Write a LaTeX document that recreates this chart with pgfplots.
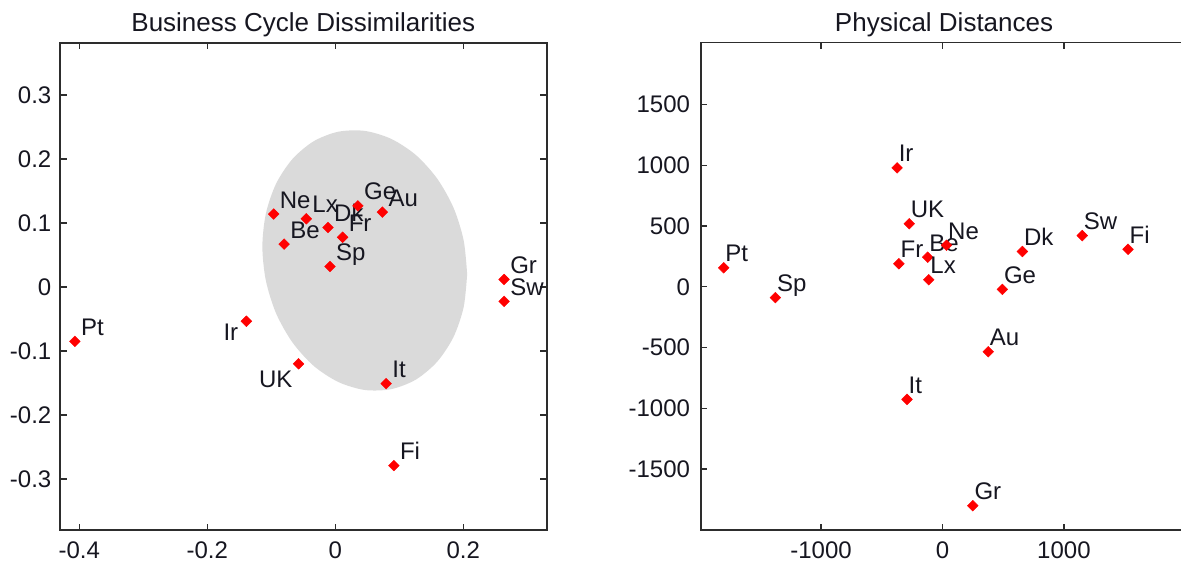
\documentclass[border=0pt]{standalone}
\usepackage{fontspec}
\setmainfont{Liberation Sans}
\usepackage{pgfplots}
\pgfplotsset{compat=1.18}
\usepackage{pgfplotstable}
\definecolor{ellgray}{RGB}{218,218,218}
\definecolor{txt}{RGB}{22,22,32}
\definecolor{axl}{RGB}{45,45,45}
\definecolor{mkred}{RGB}{255,0,0}

% Business cycle dissimilarities (MDS coordinates)
\pgfplotstableread{
x y lab
-0.407 -0.085 Pt
-0.0963 0.114 Ne
-0.0454 0.1065 Lx
-0.080 0.067 Be
-0.0114 0.093 Dk
0.0114 0.0777 Fr
0.0353 0.1268 Ge
0.0735 0.117 Au
-0.0084 0.032 Sp
0.0795 -0.151 It
0.0915 -0.279 Fi
0.2637 0.0118 Gr
0.2637 -0.0225 Sw
}\bcmain
\pgfplotstableread{
x y lab
-0.139 -0.0535 Ir
}\bcir
\pgfplotstableread{
x y lab
-0.0574 -0.120 UK
}\bcuk
% Physical distances (MDS coordinates)
\pgfplotstableread{
x y lab
-1802 157 Pt
-1376 -89 Sp
-374 980 Ir
-274 520 UK
-359 190 Fr
-122 244 Be
33 342 Ne
-113 59 Lx
658 291 Dk
493 -21 Ge
1151 422 Sw
1528 309 Fi
377 -535 Au
-292 -927 It
250 -1803 Gr
}\pdmain

\pgfplotsset{
  mdsaxis/.style={
    scale only axis, width=486.7pt, height=487.3pt,
    axis line style={axl, line width=1.6pt},
    tick style={axl, line width=1.3pt},
    tick align=inside, major tick length=6.5pt,
    xtick pos=both, ytick pos=both,
    xticklabel pos=left, yticklabel pos=left,
    every tick label/.append style={font=\fontsize{24}{28}\selectfont, text=txt, inner sep=0pt},
    xticklabel style={yshift=-11.5pt},
    yticklabel style={xshift=-8.5pt},
    every axis title/.style={at={(axis description cs:0.5,1)}, anchor=base, yshift=11pt,
      font=\fontsize{26}{30}\selectfont, text=txt, inner sep=0pt},
    clip=false,
  },
  ptstyle/.style={only marks, mark=square*, mark size=3.8pt,
    mark options={fill=mkred, draw=mkred, rotate=45, line width=0.4pt}, color=mkred,
    nodes near coords, point meta=explicit symbolic,
    every node near coord/.append style={font=\fontsize{24}{28}\selectfont, text=txt, inner sep=0pt}},
}

\begin{document}
\begin{tikzpicture}[x=1pt,y=1pt]
\begin{axis}[mdsaxis, at={(60pt,36pt)}, anchor=south west,
  xmin=-0.4302, xmax=0.3303, ymin=-0.3797, ymax=0.3817,
  xtick={-0.4,-0.2,0,0.2}, xticklabels={-0.4,-0.2,0,0.2},
  ytick={-0.3,-0.2,-0.1,0,0.1,0.2,0.3}, yticklabels={-0.3,-0.2,-0.1,0,0.1,0.2,0.3},
  title={Business Cycle Dissimilarities}]
\addplot[fill=ellgray, draw=none, smooth] coordinates {
(0.206,0.020) (0.2005,0.0731) (0.1846,0.1241) (0.1591,0.1694) (0.126,0.2061) (0.0874,0.2314)
(0.046,0.2439) (0.0046,0.2426) (-0.034,0.2276) (-0.0671,0.1998) (-0.0926,0.1613) (-0.1085,0.1147)
(-0.114,0.063) (-0.1085,0.0099) (-0.0926,-0.0411) (-0.0671,-0.0864) (-0.034,-0.1231) (0.0046,-0.1484)
(0.046,-0.1609) (0.0874,-0.1596) (0.126,-0.1446) (0.1591,-0.1168) (0.1846,-0.0783) (0.2005,-0.0317)
(0.206,0.020)};
\addplot[ptstyle, every node near coord/.append style={anchor=base west, xshift=6pt, yshift=6pt}]
  table[x=x, y=y, meta=lab] {\bcmain};
\addplot[ptstyle, every node near coord/.append style={anchor=base east, xshift=-8pt, yshift=-19pt}]
  table[x=x, y=y, meta=lab] {\bcir};
\addplot[ptstyle, every node near coord/.append style={anchor=base east, xshift=-6pt, yshift=-24pt}]
  table[x=x, y=y, meta=lab] {\bcuk};
\end{axis}

\begin{axis}[mdsaxis, at={(700.7pt,36pt)}, anchor=south west,
  xmin=-1991, xmax=2017, ymin=-2003, ymax=2011,
  xtick={-1000,0,1000}, xticklabels={-1000,0,1000},
  ytick={-1500,-1000,-500,0,500,1000,1500}, yticklabels={-1500,-1000,-500,0,500,1000,1500},
  yticklabel style={xshift=-2pt},
  title={Physical Distances}]
\addplot[ptstyle, every node near coord/.append style={anchor=base west, xshift=1.5pt, yshift=6pt}]
  table[x=x, y=y, meta=lab] {\pdmain};
\end{axis}
\pgfresetboundingbox
\path[use as bounding box] (0pt,0pt) rectangle (1181pt,566pt);
\end{tikzpicture}
\end{document}
